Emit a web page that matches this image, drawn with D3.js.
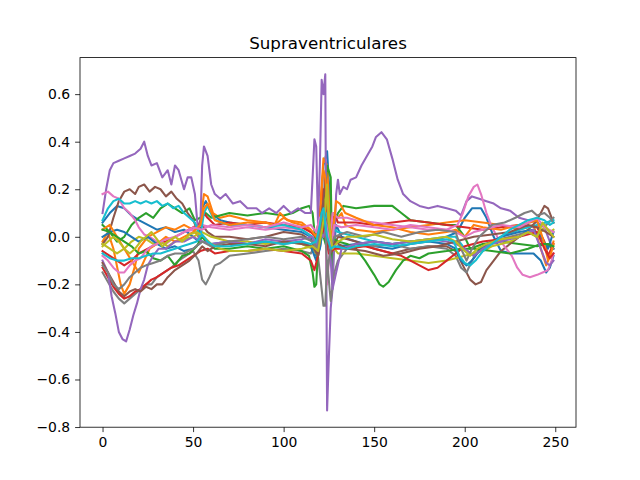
<!DOCTYPE html>
<html>
<head>
<meta charset="utf-8">
<script src="https://cdn.jsdelivr.net/npm/d3@7"></script>
<style>
  body { margin: 0; background: #fff; }
  text { font-family: "DejaVu Sans", sans-serif; }
</style>
</head>
<body>
<div id="chart"></div>
<script>
// each series: [sample index, amplitude]
var blueA = [[0,0.06],[4,0.1],[8,0.13],[12,0.12],[16,0.09],[20,0.07],[25,0.05],[30,0.03],[35,0.04],[40,0.02],[45,0.03],[50,0.0],[53,-0.02],[55,0.12],[57,0.15],[60,0.1],[65,0.07],[70,0.06],[80,0.05],[90,0.04],[100,0.03],[110,0.02],[115,0.0],[118,-0.08],[120,0.05],[122,0.3],[124,0.36],[126,0.1],[127,-0.1],[129,0.05],[132,0.0],[140,-0.02],[150,-0.04],[160,-0.05],[170,-0.03],[180,-0.02],[190,0.0],[196,0.02],[200,0.08],[204,0.12],[209,0.12],[212,0.08],[216,0.0],[220,-0.06],[226,-0.07],[232,-0.07],[238,-0.07],[242,-0.1],[245,-0.15],[247,-0.13],[249,-0.08]];
var orangeA = [[0,-0.02],[3,0.02],[6,-0.05],[10,-0.2],[12,-0.24],[15,-0.2],[18,-0.12],[20,-0.05],[25,0.0],[30,0.02],[35,0.04],[40,0.03],[45,0.05],[50,0.03],[53,0.0],[56,0.18],[58,0.17],[61,0.1],[65,0.08],[70,0.09],[75,0.08],[80,0.07],[90,0.06],[95,0.05],[100,0.08],[105,0.06],[110,0.05],[115,0.02],[118,0.0],[120,0.1],[122,0.33],[124,0.3],[126,0.0],[128,0.1],[130,0.08],[132,0.1],[134,0.05],[140,0.03],[150,0.02],[160,0.03],[170,0.04],[180,0.05],[190,0.06],[200,0.07],[210,0.06],[220,0.05],[230,0.03],[238,0.05],[242,-0.05],[245,-0.12],[247,-0.08],[249,-0.02]];
var greenA = [[0,0.05],[4,0.02],[8,-0.02],[12,0.0],[16,0.05],[20,0.08],[24,0.1],[28,0.08],[32,0.12],[36,0.14],[40,0.12],[44,0.1],[48,0.12],[51,0.07],[54,0.08],[57,0.1],[60,0.08],[70,0.1],[80,0.09],[90,0.1],[100,0.09],[105,0.1],[110,0.12],[114,0.13],[116,0.1],[118,-0.05],[120,0.0],[122,0.1],[124,0.3],[126,0.25],[127,-0.2],[128,0.05],[130,0.1],[133,0.13],[140,0.12],[150,0.13],[160,0.13],[165,0.1],[170,0.07],[180,0.06],[190,0.05],[195,0.05],[200,0.0],[203,-0.05],[210,-0.03],[220,-0.02],[230,-0.03],[240,-0.04],[245,-0.03],[249,-0.05]];
var redA = [[0,-0.06],[4,-0.08],[8,-0.1],[12,-0.12],[16,-0.1],[20,-0.07],[25,-0.05],[30,-0.03],[35,-0.02],[40,0.0],[45,0.02],[50,0.04],[53,0.05],[56,0.1],[58,0.08],[62,0.05],[70,0.06],[80,0.05],[90,0.06],[100,0.05],[110,0.04],[115,0.02],[118,0.0],[120,0.1],[122,0.2],[124,0.15],[126,0.05],[128,0.1],[130,0.06],[140,0.06],[150,0.05],[160,0.06],[170,0.07],[180,0.06],[190,0.05],[200,0.04],[210,0.03],[220,0.04],[230,0.05],[240,0.04],[244,-0.02],[246,-0.08],[249,-0.03]];
var purpleA = [[0,0.1],[2,0.2],[4,0.28],[6,0.31],[9,0.32],[12,0.33],[15,0.34],[18,0.35],[21,0.37],[23,0.4],[25,0.34],[27,0.3],[30,0.31],[33,0.25],[36,0.28],[38,0.22],[40,0.3],[42,0.28],[45,0.2],[47,0.25],[49,0.25],[51,0.18],[53,0.0],[54,0.05],[55,0.3],[56,0.38],[58,0.34],[60,0.22],[62,0.18],[65,0.16],[68,0.18],[72,0.14],[76,0.15],[80,0.12],[85,0.12],[88,0.1],[92,0.12],[96,0.1],[100,0.13],[104,0.1],[108,0.12],[112,0.1],[115,0.1],[116,0.25],[117,0.41],[118,0.38],[119,0.05],[120,0.3],[121,0.66],[122,0.6],[123,0.683],[124,-0.73],[125,-0.5],[126,-0.3],[127,-0.22],[128,0.0],[129,0.18],[130,0.24],[131,0.18],[133,0.21],[135,0.2],[137,0.24],[140,0.25],[143,0.3],[146,0.34],[149,0.38],[151,0.42],[154,0.44],[157,0.41],[160,0.33],[163,0.24],[166,0.18],[170,0.15],[175,0.13],[180,0.12],[185,0.13],[190,0.12],[195,0.11],[198,0.09],[201,0.15],[204,0.17],[208,0.16],[212,0.15],[216,0.14],[220,0.12],[225,0.11],[230,0.08],[235,0.07],[240,0.06],[244,0.04],[247,-0.02],[249,-0.05]];
var brownA = [[0,-0.03],[3,0.0],[6,0.08],[9,0.15],[12,0.19],[15,0.2],[18,0.18],[20,0.21],[23,0.22],[26,0.19],[29,0.21],[32,0.2],[35,0.17],[38,0.19],[41,0.16],[44,0.14],[47,0.1],[50,0.07],[53,0.02],[55,0.05],[58,0.02],[62,0.0],[70,0.0],[80,-0.01],[90,0.0],[100,0.02],[110,0.01],[116,-0.02],[119,-0.08],[121,0.05],[123,0.25],[125,0.0],[127,-0.05],[130,0.0],[140,-0.02],[150,-0.05],[160,-0.07],[170,-0.05],[180,-0.04],[190,-0.04],[195,-0.06],[199,-0.12],[203,-0.18],[206,-0.2],[209,-0.19],[212,-0.14],[216,-0.1],[220,-0.06],[225,-0.03],[230,0.0],[235,0.03],[239,0.06],[242,0.1],[244,0.13],[246,0.12],[248,0.08],[249,0.06]];
var pinkA = [[0,0.18],[3,0.19],[6,0.17],[9,0.16],[12,0.12],[15,0.1],[18,0.07],[20,0.04],[23,0.01],[26,0.0],[30,-0.02],[35,-0.03],[40,0.0],[45,0.02],[50,0.03],[55,0.05],[60,0.04],[70,0.03],[80,0.04],[90,0.03],[100,0.04],[110,0.03],[116,0.0],[119,-0.08],[121,0.1],[123,0.05],[124,-0.2],[125,-0.1],[127,0.1],[130,0.08],[135,0.08],[140,0.07],[150,0.06],[160,0.05],[170,0.04],[180,0.03],[190,0.03],[196,0.05],[199,0.1],[202,0.17],[205,0.21],[207,0.22],[209,0.18],[212,0.1],[215,0.04],[218,0.0],[222,-0.04],[226,-0.08],[229,-0.13],[232,-0.16],[236,-0.17],[240,-0.16],[243,-0.15],[246,-0.14],[248,-0.1],[249,-0.07]];
var grayA = [[0,-0.15],[3,-0.19],[6,-0.23],[9,-0.26],[12,-0.28],[15,-0.26],[18,-0.24],[21,-0.22],[24,-0.2],[27,-0.2],[30,-0.17],[34,-0.15],[38,-0.13],[42,-0.1],[46,-0.08],[50,-0.06],[53,-0.1],[55,-0.18],[57,-0.2],[59,-0.17],[62,-0.12],[65,-0.11],[70,-0.08],[80,-0.07],[90,-0.06],[100,-0.05],[110,-0.06],[115,-0.07],[118,-0.02],[120,-0.15],[122,-0.29],[123,-0.29],[124,-0.1],[126,-0.27],[128,-0.15],[130,-0.1],[135,-0.05],[140,-0.03],[150,-0.04],[160,-0.03],[170,-0.05],[180,-0.04],[190,-0.05],[195,-0.08],[198,-0.13],[201,-0.15],[204,-0.1],[208,-0.05],[215,-0.02],[225,0.0],[235,0.02],[240,0.0],[245,0.05],[249,0.08]];
var oliveA = [[0,-0.03],[4,-0.05],[8,-0.07],[12,-0.05],[16,-0.02],[20,0.0],[24,-0.01],[28,-0.03],[32,-0.02],[36,-0.04],[40,-0.02],[45,-0.01],[50,0.0],[55,0.02],[60,0.0],[70,-0.02],[80,-0.02],[90,-0.03],[100,-0.02],[110,-0.03],[116,-0.05],[119,-0.08],[121,0.05],[123,0.15],[124,0.2],[126,0.0],[128,-0.05],[130,-0.07],[140,-0.07],[150,-0.08],[160,-0.09],[170,-0.1],[180,-0.11],[190,-0.1],[195,-0.09],[200,-0.08],[205,-0.07],[210,-0.06],[215,-0.04],[220,-0.03],[225,-0.02],[230,0.0],[235,0.02],[240,0.0],[244,0.04],[247,0.02],[249,0.03]];
var cyanA = [[0,0.07],[3,0.12],[6,0.15],[9,0.16],[12,0.14],[15,0.14],[18,0.15],[21,0.14],[24,0.15],[27,0.14],[30,0.15],[33,0.13],[36,0.14],[39,0.12],[42,0.13],[45,0.1],[48,0.08],[51,0.06],[54,0.0],[56,0.1],[58,0.13],[61,0.08],[65,0.06],[70,0.05],[80,0.05],[90,0.04],[100,0.05],[110,0.03],[116,0.0],[120,-0.05],[122,0.05],[124,0.1],[126,0.0],[128,0.03],[130,0.02],[140,0.0],[150,-0.02],[160,-0.03],[170,-0.02],[180,-0.01],[190,0.0],[195,0.0],[200,-0.05],[205,-0.08],[210,-0.05],[220,0.0],[230,0.03],[240,0.05],[245,0.06],[249,0.07]];
var blueB = [[0,0.0],[4,0.02],[8,0.03],[12,0.02],[16,0.0],[20,-0.02],[25,0.0],[30,-0.03],[35,-0.05],[40,-0.04],[45,-0.06],[50,-0.05],[55,-0.02],[60,-0.03],[70,-0.02],[80,-0.03],[90,-0.02],[100,-0.03],[110,-0.02],[115,-0.04],[118,-0.1],[120,-0.05],[122,0.05],[124,0.0],[126,-0.05],[130,-0.04],[140,-0.03],[150,-0.02],[160,-0.03],[170,-0.02],[180,-0.02],[190,-0.03],[195,-0.05],[198,-0.1],[201,-0.12],[204,-0.1],[208,-0.06],[212,-0.03],[220,0.0],[230,0.02],[238,0.03],[242,0.0],[246,-0.05],[249,0.02]];
var orangeB = [[0,0.03],[4,0.05],[8,0.0],[12,-0.05],[16,-0.1],[20,-0.15],[23,-0.1],[26,-0.05],[30,-0.03],[35,0.0],[40,-0.02],[45,0.0],[50,0.02],[54,0.05],[56,0.12],[58,0.14],[62,0.07],[70,0.05],[80,0.06],[90,0.06],[95,0.05],[98,0.1],[102,0.07],[110,0.06],[115,0.03],[118,0.0],[120,0.05],[121,0.2],[122,0.28],[123,0.25],[125,0.05],[127,0.0],[129,0.15],[131,0.14],[134,0.1],[140,0.08],[150,0.05],[160,0.04],[170,0.02],[180,0.01],[190,0.02],[195,0.03],[200,0.0],[205,0.05],[210,0.04],[220,0.03],[230,0.05],[236,0.06],[240,0.07],[244,-0.03],[246,-0.1],[248,-0.06],[249,-0.03]];
var greenB = [[0,0.03],[4,0.02],[8,0.0],[12,-0.02],[16,-0.04],[20,-0.07],[24,-0.06],[28,-0.09],[32,-0.1],[36,-0.08],[40,-0.12],[44,-0.08],[48,-0.07],[52,-0.04],[55,0.0],[58,-0.03],[62,-0.05],[70,-0.05],[80,-0.04],[90,-0.05],[100,-0.04],[110,-0.06],[114,-0.08],[116,-0.15],[117,-0.21],[118,-0.2],[119,-0.05],[121,0.1],[122,0.0],[124,-0.05],[126,0.0],[130,-0.02],[135,-0.03],[140,-0.05],[145,-0.1],[150,-0.16],[153,-0.2],[155,-0.21],[158,-0.19],[162,-0.14],[166,-0.1],[170,-0.08],[175,-0.09],[180,-0.07],[190,-0.06],[198,-0.05],[205,-0.05],[215,-0.06],[225,-0.07],[235,-0.05],[242,-0.03],[246,-0.03],[249,-0.04]];
var redB = [[0,-0.13],[3,-0.17],[6,-0.21],[9,-0.24],[12,-0.26],[15,-0.25],[18,-0.23],[21,-0.22],[24,-0.2],[27,-0.18],[30,-0.17],[34,-0.15],[38,-0.13],[42,-0.12],[46,-0.1],[50,-0.08],[54,-0.06],[58,-0.05],[62,-0.07],[70,-0.06],[80,-0.06],[90,-0.05],[100,-0.06],[110,-0.07],[115,-0.1],[117,-0.14],[119,-0.08],[121,0.05],[123,0.0],[125,-0.07],[128,-0.05],[135,-0.05],[145,-0.04],[155,-0.06],[165,-0.08],[175,-0.12],[180,-0.14],[185,-0.13],[190,-0.1],[195,-0.07],[200,-0.04],[210,-0.02],[220,-0.01],[230,0.0],[240,0.02],[244,-0.05],[247,-0.09],[249,-0.07]];
var purpleB = [[0,-0.1],[3,-0.15],[5,-0.25],[7,-0.32],[9,-0.4],[11,-0.43],[13,-0.44],[15,-0.39],[17,-0.33],[19,-0.28],[21,-0.22],[23,-0.18],[25,-0.12],[28,-0.08],[31,-0.05],[35,-0.05],[40,-0.02],[45,-0.02],[50,0.0],[55,-0.02],[60,-0.03],[70,-0.02],[80,-0.03],[90,-0.01],[100,-0.02],[110,-0.01],[116,0.0],[118,-0.05],[120,0.02],[122,0.0],[124,0.05],[126,-0.1],[127,-0.22],[129,-0.15],[132,-0.05],[140,-0.03],[150,-0.02],[160,-0.03],[170,-0.02],[180,-0.01],[190,-0.02],[195,-0.03],[200,-0.05],[205,-0.08],[210,-0.05],[215,-0.03],[220,-0.02],[230,0.0],[238,0.03],[242,-0.05],[245,-0.11],[247,-0.12],[249,-0.1]];
var brownB = [[0,-0.11],[3,-0.15],[6,-0.19],[9,-0.23],[12,-0.25],[15,-0.23],[18,-0.22],[21,-0.23],[24,-0.21],[27,-0.22],[30,-0.2],[33,-0.2],[36,-0.17],[40,-0.14],[44,-0.12],[48,-0.1],[52,-0.07],[55,-0.04],[58,-0.06],[62,-0.04],[70,-0.03],[80,-0.03],[90,-0.04],[100,-0.02],[110,-0.03],[116,-0.04],[119,-0.08],[121,0.1],[122,0.15],[124,0.0],[126,-0.07],[128,-0.02],[135,-0.05],[145,-0.06],[155,-0.08],[165,-0.07],[175,-0.05],[185,-0.04],[195,-0.02],[205,0.0],[215,0.01],[225,0.02],[235,0.05],[240,0.04],[245,0.02],[249,0.0]];
var pinkB = [[0,-0.08],[3,-0.1],[6,-0.13],[9,-0.15],[12,-0.15],[15,-0.12],[18,-0.1],[21,-0.09],[24,-0.06],[27,-0.04],[30,-0.03],[35,-0.01],[40,0.0],[45,0.02],[50,0.04],[55,0.03],[60,0.05],[70,0.04],[80,0.05],[90,0.04],[100,0.06],[110,0.04],[115,0.05],[118,0.02],[120,0.08],[122,0.1],[124,0.03],[126,-0.05],[128,0.05],[132,0.04],[140,0.05],[150,0.04],[160,0.03],[170,0.05],[180,0.04],[190,0.03],[195,0.02],[200,0.0],[205,0.02],[210,0.03],[220,0.05],[230,0.04],[235,0.06],[240,0.08],[244,0.04],[249,0.02]];
var grayB = [[0,-0.12],[3,-0.15],[6,-0.2],[9,-0.22],[12,-0.2],[15,-0.17],[18,-0.15],[21,-0.13],[24,-0.12],[28,-0.11],[32,-0.1],[36,-0.08],[40,-0.07],[45,-0.07],[50,-0.05],[55,-0.02],[60,-0.04],[70,-0.02],[80,-0.01],[90,0.0],[100,-0.01],[110,0.0],[116,-0.02],[119,-0.05],[121,0.1],[123,0.05],[124,-0.15],[126,-0.05],[128,0.0],[135,0.02],[145,0.0],[155,0.02],[165,0.0],[175,0.02],[185,0.03],[195,0.02],[198,-0.05],[201,-0.1],[204,-0.05],[208,0.0],[215,0.05],[222,0.06],[228,0.08],[233,0.1],[237,0.11],[240,0.09],[244,0.1],[247,0.08],[249,0.06]];
var oliveB = [[0,-0.04],[3,-0.02],[6,0.0],[9,-0.02],[12,-0.05],[15,-0.07],[18,-0.05],[21,-0.02],[24,0.0],[27,0.02],[30,-0.01],[33,-0.04],[36,-0.02],[40,0.0],[44,-0.02],[48,0.01],[52,0.02],[56,0.0],[60,-0.03],[65,-0.05],[70,-0.06],[80,-0.06],[90,-0.05],[100,-0.06],[110,-0.05],[116,-0.04],[119,-0.06],[121,0.02],[123,0.12],[124,0.22],[125,0.05],[127,-0.05],[130,-0.02],[135,0.0],[140,0.0],[150,0.01],[160,-0.01],[170,-0.02],[180,-0.01],[190,0.0],[195,-0.02],[200,-0.06],[203,-0.08],[207,-0.05],[212,-0.03],[220,-0.01],[230,0.0],[235,0.02],[240,0.0],[243,0.06],[246,0.03],[249,0.0]];
var cyanB = [[0,-0.07],[4,-0.09],[8,-0.1],[12,-0.1],[16,-0.09],[20,-0.09],[24,-0.08],[28,-0.07],[32,-0.07],[36,-0.06],[40,-0.05],[44,-0.04],[48,-0.03],[52,-0.02],[55,0.01],[58,-0.02],[62,-0.04],[70,-0.04],[80,-0.03],[90,-0.02],[100,-0.03],[110,-0.02],[115,-0.03],[118,-0.02],[120,0.05],[121,0.1],[122,0.12],[124,0.0],[126,-0.05],[128,-0.04],[135,-0.05],[140,-0.04],[150,-0.03],[160,-0.04],[170,-0.03],[180,-0.02],[190,-0.01],[194,-0.02],[197,-0.08],[200,-0.11],[203,-0.12],[206,-0.1],[210,-0.06],[215,-0.03],[220,0.0],[225,0.03],[230,0.05],[235,0.07],[240,0.08],[244,0.07],[247,0.05],[249,0.06]];

var series = [blueA, orangeA, greenA, redA, purpleA, brownA, pinkA, grayA, oliveA, cyanA,
              blueB, orangeB, greenB, redB, purpleB, brownB, pinkB, grayB, oliveB, cyanB];
var xTicks = [0, 50, 100, 150, 200, 250];
var yTicks = [-0.8, -0.6, -0.4, -0.2, 0.0, 0.2, 0.4, 0.6];
var title = "Supraventriculares";

var width = 640, height = 480;
var margin = {top: 57.6, right: 64, bottom: 52.8, left: 80};

var svg = d3.select("#chart")
            .append("svg")
            .attr("width", width)
            .attr("height", height)

var xMin = 0, xMax = 249;
var allY = series.flatMap(function(s) { return s.map(function(p) { return p[1]; }); });
var yMin = d3.min(allY), yMax = d3.max(allY);
var xPad = (xMax - xMin) * 0.05, yPad = (yMax - yMin) * 0.05;

var x = d3.scaleLinear()
    .domain([xMin - xPad, xMax + xPad])
    .range([margin.left, width - margin.right]);
var y = d3.scaleLinear()
    .domain([yMin - yPad, yMax + yPad])
    .range([height - margin.bottom, margin.top]);

var color = d3.scaleOrdinal(d3.schemeCategory10);

svg.append("defs").append("clipPath")
    .attr("id", "clip")
    .append("rect")
    .attr("x", margin.left)
    .attr("y", margin.top)
    .attr("width", width - margin.left - margin.right)
    .attr("height", height - margin.top - margin.bottom);

var line = d3.line()
    .x(function(d) { return x(d[0]); })
    .y(function(d) { return y(d[1]); });

// 1.5pt lines at 100 dpi
svg.append("g")
    .attr("clip-path", "url(#clip)")
    .selectAll("path")
    .data(series)
    .enter()
    .append("path")
    .attr("d", line)
    .style("fill", "none")
    .style("stroke", function(d, i) { return color(i % 10); })
    .style("stroke-width", 2.08)
    .style("stroke-linejoin", "round")
    .style("stroke-linecap", "square");

var xAxis = svg.append("g")
    .attr("transform", "translate(0," + (height - margin.bottom) + ")")
    .call(d3.axisBottom(x).tickValues(xTicks).tickSize(4.9).tickPadding(4.9).tickFormat(d3.format("d")));
var yAxis = svg.append("g")
    .attr("transform", "translate(" + margin.left + ",0)")
    .call(d3.axisLeft(y).tickValues(yTicks).tickSize(4.9).tickPadding(4.9).tickFormat(d3.format(".1f")));

[xAxis, yAxis].forEach(function(a) {
    a.select(".domain").remove();
    a.selectAll("line").style("stroke", "#000").style("stroke-width", 0.8);
    a.selectAll("text").style("font-family", "DejaVu Sans").style("font-size", "13.9px").style("fill", "#000");
});

// frame
svg.append("rect")
    .attr("x", margin.left)
    .attr("y", margin.top)
    .attr("width", width - margin.left - margin.right)
    .attr("height", height - margin.top - margin.bottom)
    .style("fill", "none")
    .style("stroke", "#000")
    .style("stroke-width", 0.8);

svg.append("text")
    .attr("x", (margin.left + width - margin.right) / 2)
    .attr("y", margin.top - 8.3)
    .attr("text-anchor", "middle")
    .style("font-size", "16.7px")
    .style("fill", "#000")
    .text(title);
</script>
</body>
</html>
